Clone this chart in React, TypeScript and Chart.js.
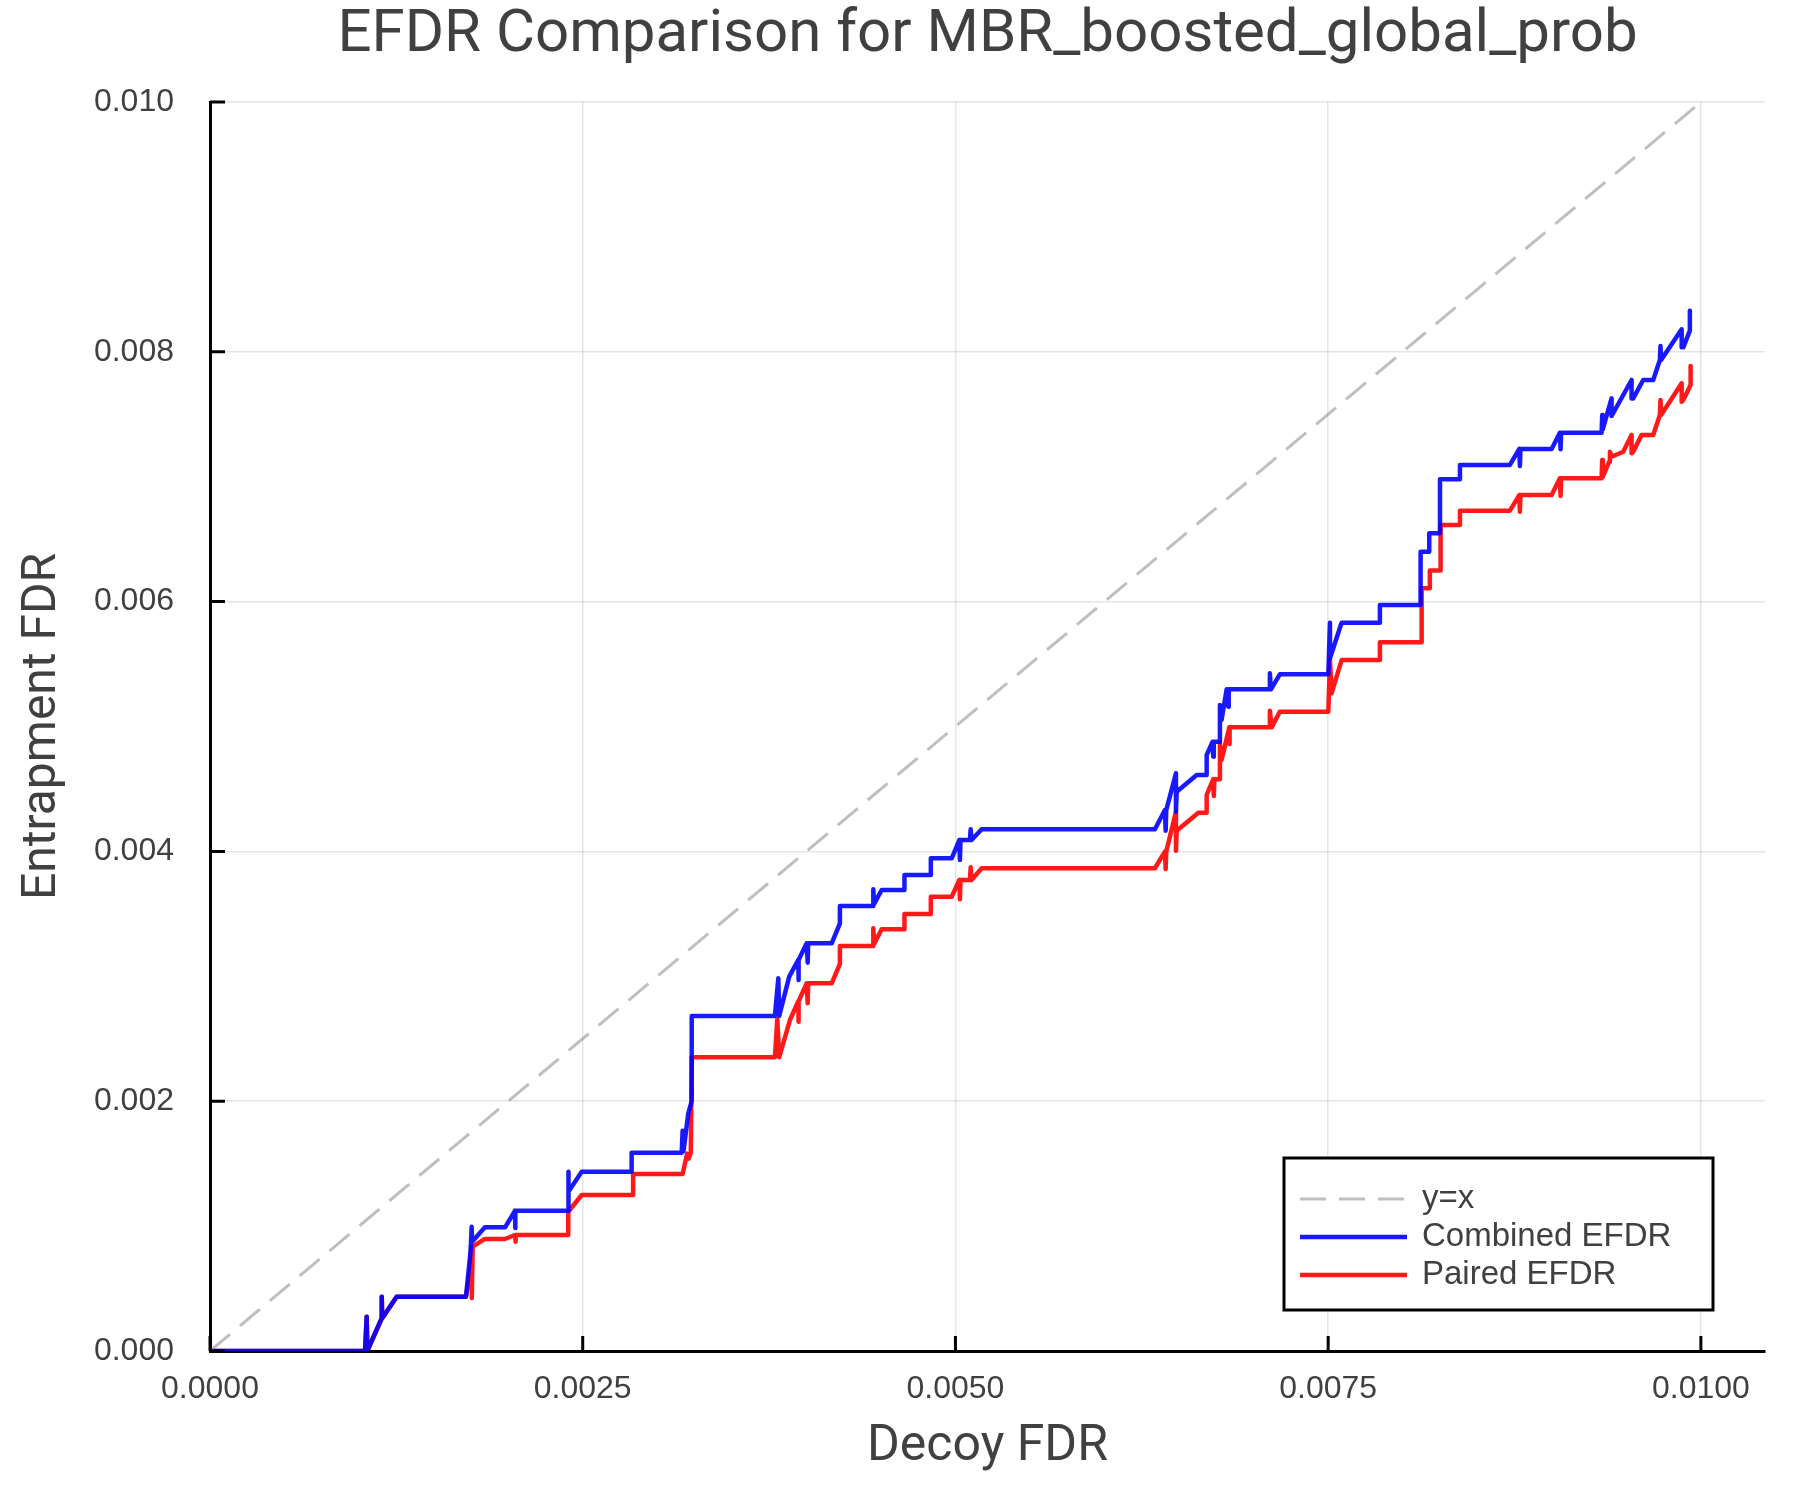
import { useEffect, useRef } from 'react';
import { Chart, ChartConfiguration, registerables } from 'chart.js';

Chart.register(...registerables);

const FONT = '"Liberation Sans", Arial, Helvetica, sans-serif';
const TITLE_FONT = 'Roboto, "Liberation Sans", Arial, sans-serif';
const TEXT_COLOR = '#404040';

const chartTitle = 'EFDR Comparison for MBR_boosted_global_prob';
const xTitle = 'Decoy FDR';
const yTitle = 'Entrapment FDR';
const seriesLabels = ['y=x', 'Combined EFDR', 'Paired EFDR'];

// axis ranges / ticks
const xMin = 0;
const xMax = 0.01043;
const xStep = 0.0025;
const yMin = 0;
const yMax = 0.01;
const yStep = 0.002;

// reference diagonal
const diagX = [0, 0.01];
const diagY = [0, 0.01];

// Combined EFDR
const combinedX = [
  0, 0.00104, 0.001051, 0.001055, 0.001152, 0.001152, 0.001155, 0.001252, 0.001717, 0.001748,
  0.001755, 0.001758, 0.001844, 0.001979, 0.002046, 0.002046, 0.00205, 0.002403, 0.002403, 0.002406,
  0.002493, 0.002828, 0.002828, 0.003164, 0.00317, 0.003176, 0.003208, 0.003231, 0.003231, 0.003789,
  0.003812, 0.003818, 0.003885, 0.003946, 0.003946, 0.00395, 0.004002, 0.004009, 0.004012, 0.00417,
  0.004225, 0.004225, 0.004449, 0.004449, 0.004455, 0.004505, 0.004658, 0.004658, 0.004835, 0.004835,
  0.004975, 0.005026, 0.00503, 0.005034, 0.005097, 0.005102, 0.005108, 0.005176, 0.006338, 0.006405,
  0.00641, 0.006414, 0.006479, 0.006479, 0.006484, 0.006618, 0.006685, 0.006685, 0.006725, 0.006729,
  0.006733, 0.006774, 0.006774, 0.006785, 0.006819, 0.00683, 0.006833, 0.007109, 0.007109, 0.007116,
  0.007176, 0.007501, 0.007512, 0.007512, 0.00759, 0.007847, 0.007847, 0.00812, 0.00812, 0.008178,
  0.008178, 0.00825, 0.00825, 0.008384, 0.008384, 0.008719, 0.008782, 0.008786, 0.00879, 0.008999,
  0.009054, 0.009059, 0.009062, 0.009334, 0.009338, 0.009342, 0.009401, 0.009401, 0.009535, 0.009535,
  0.009546, 0.009613, 0.00968, 0.009725, 0.009729, 0.009733, 0.009871, 0.009871, 0.009882, 0.009926,
  0.009926,
];
const combinedY = [
  0, 0, 0.000275, 0, 0.000262, 0.000435, 0.000262, 0.000435, 0.000435, 0.0008,
  0.000995, 0.000875, 0.00099, 0.00099, 0.001123, 0.000985, 0.001123, 0.001123, 0.001436, 0.001276,
  0.001436, 0.001436, 0.001588, 0.001588, 0.001764, 0.0016, 0.001903, 0.002, 0.002682, 0.002682,
  0.002984, 0.002682, 0.002997, 0.003131, 0.00297, 0.003131, 0.003264, 0.003109, 0.003264, 0.003264,
  0.003424, 0.003563, 0.003563, 0.003697, 0.00358, 0.003691, 0.003691, 0.003811, 0.003811, 0.003945,
  0.003945, 0.004091, 0.003931, 0.004091, 0.004091, 0.004177, 0.004091, 0.004177, 0.004177, 0.004331,
  0.004166, 0.004331, 0.004625, 0.004318, 0.004478, 0.004612, 0.004612, 0.004772, 0.004878, 0.004758,
  0.004878, 0.004878, 0.005172, 0.005052, 0.005298, 0.005159, 0.005298, 0.005298, 0.005426, 0.005298,
  0.005418, 0.005418, 0.005831, 0.005546, 0.005831, 0.005831, 0.005973, 0.005973, 0.0064, 0.0064,
  0.006547, 0.006547, 0.006979, 0.006979, 0.007094, 0.007094, 0.007222, 0.007086, 0.007222, 0.007222,
  0.007352, 0.007219, 0.007352, 0.007352, 0.007494, 0.00738, 0.007627, 0.007486, 0.007774, 0.007627,
  0.007627, 0.007774, 0.007774, 0.007934, 0.008046, 0.007934, 0.00818, 0.008036, 0.008036, 0.008169,
  0.008329,
];

// Paired EFDR
const pairedX = [
  0, 0.00104, 0.001051, 0.001055, 0.001152, 0.001152, 0.001155, 0.001252, 0.001717, 0.001745,
  0.001752, 0.001756, 0.001762, 0.001844, 0.001979, 0.002046, 0.002048, 0.002052, 0.002403, 0.002403,
  0.002493, 0.002838, 0.002838, 0.00317, 0.0032, 0.00321, 0.003225, 0.003231, 0.003789, 0.003805,
  0.003818, 0.00389, 0.003946, 0.003946, 0.00395, 0.004002, 0.004009, 0.004012, 0.00417, 0.004225,
  0.004225, 0.004449, 0.004449, 0.004455, 0.004505, 0.004658, 0.004658, 0.004835, 0.004835, 0.004975,
  0.005026, 0.00503, 0.005034, 0.005097, 0.005102, 0.005108, 0.005176, 0.006338, 0.006405, 0.00641,
  0.006414, 0.006479, 0.006479, 0.006484, 0.006629, 0.006685, 0.006685, 0.006729, 0.006733, 0.006737,
  0.006774, 0.006774, 0.006785, 0.006837, 0.006837, 0.006841, 0.007109, 0.007109, 0.007121, 0.007176,
  0.007501, 0.007512, 0.007523, 0.00759, 0.007847, 0.007847, 0.008127, 0.008127, 0.008182, 0.008182,
  0.008254, 0.008254, 0.008384, 0.008384, 0.008719, 0.008782, 0.008786, 0.00879, 0.008999, 0.009054,
  0.009059, 0.009062, 0.009334, 0.009338, 0.009342, 0.009385, 0.00939, 0.009401, 0.009479, 0.009535,
  0.009535, 0.009546, 0.009602, 0.00968, 0.009725, 0.009729, 0.009733, 0.009871, 0.009871, 0.009882,
  0.009931, 0.009931,
];
const pairedY = [
  0, 0, 0.000275, 0, 0.000262, 0.000435, 0.000262, 0.000435, 0.000435, 0.00065,
  0.000835, 0.000424, 0.000835, 0.000897, 0.000897, 0.000929, 0.000875, 0.000929, 0.000929, 0.001115,
  0.001249, 0.001249, 0.001417, 0.001417, 0.00158, 0.00154, 0.00159, 0.002352, 0.002352, 0.002656,
  0.002352, 0.00265, 0.0028, 0.002637, 0.0028, 0.002944, 0.002784, 0.002944, 0.002944, 0.003099,
  0.003243, 0.003243, 0.003384, 0.00326, 0.003376, 0.003376, 0.003499, 0.003499, 0.003637, 0.003637,
  0.003771, 0.003617, 0.003771, 0.003771, 0.003873, 0.003771, 0.003865, 0.003865, 0.003998, 0.003857,
  0.003998, 0.004318, 0.004006, 0.004166, 0.00431, 0.00431, 0.004452, 0.004577, 0.004444, 0.004577,
  0.004577, 0.00487, 0.004732, 0.004993, 0.00486, 0.004993, 0.004993, 0.005127, 0.004993, 0.005119,
  0.005119, 0.005538, 0.005266, 0.005532, 0.005532, 0.005674, 0.005674, 0.006106, 0.006106, 0.006248,
  0.006248, 0.006613, 0.006613, 0.006728, 0.006728, 0.006853, 0.00672, 0.006853, 0.006853, 0.006987,
  0.006845, 0.006987, 0.006987, 0.007134, 0.007, 0.00712, 0.0072, 0.00716, 0.0072, 0.007334,
  0.007187, 0.0072, 0.007334, 0.007334, 0.007494, 0.007614, 0.007494, 0.007748, 0.0076, 0.007614,
  0.007734, 0.007886,
];

const toPoints = (xs: number[], ys: number[]) => xs.map((x, i) => ({ x, y: ys[i] }));

// ticks drawn inward from the axis lines
const inwardTicks = {
  id: 'inwardTicks',
  afterDatasetsDraw(chart: Chart) {
    const { ctx, chartArea } = chart;
    const xs = chart.scales.x;
    const ys = chart.scales.y;
    ctx.save();
    ctx.strokeStyle = '#000';
    ctx.lineWidth = 3;
    ctx.beginPath();
    xs.ticks.forEach((t) => {
      const px = xs.getPixelForValue(t.value);
      ctx.moveTo(px, chartArea.bottom);
      ctx.lineTo(px, chartArea.bottom - 15);
    });
    ys.ticks.forEach((t) => {
      const py = ys.getPixelForValue(t.value);
      ctx.moveTo(chartArea.left, py);
      ctx.lineTo(chartArea.left + 15, py);
    });
    ctx.stroke();
    ctx.restore();
  },
};

// boxed legend in the lower right of the plot area
const boxLegend = {
  id: 'boxLegend',
  afterDatasetsDraw(chart: Chart) {
    const { ctx, chartArea } = chart;
    const w = 429;
    const h = 152;
    const right = chartArea.right - 52;
    const bottom = chartArea.bottom - 41;
    const left = right - w;
    const top = bottom - h;
    ctx.save();
    ctx.fillStyle = '#fff';
    ctx.fillRect(left, top, w, h);
    ctx.strokeStyle = '#000';
    ctx.lineWidth = 3;
    ctx.strokeRect(left, top, w, h);
    chart.data.datasets.forEach((ds: any, i: number) => {
      const y = top + 41 + i * 38;
      ctx.beginPath();
      ctx.setLineDash(ds.borderDash || []);
      ctx.strokeStyle = ds.borderColor;
      ctx.lineWidth = ds.borderWidth;
      ctx.lineCap = 'butt';
      ctx.moveTo(left + 16, y);
      ctx.lineTo(left + 123, y);
      ctx.stroke();
      ctx.setLineDash([]);
      ctx.fillStyle = TEXT_COLOR;
      ctx.font = `33px ${FONT}`;
      ctx.textBaseline = 'middle';
      ctx.textAlign = 'left';
      ctx.fillText(ds.label, left + 138, y);
    });
    ctx.restore();
  },
};

export default function App() {
  const canvasRef = useRef<HTMLCanvasElement>(null);
  const chartRef = useRef<Chart | null>(null);

  useEffect(() => {
    if (!canvasRef.current) return;
    const ctx = canvasRef.current.getContext('2d');
    if (!ctx) return;

    if (chartRef.current) {
      chartRef.current.destroy();
    }

    const config: ChartConfiguration = {
      type: 'line',
      data: {
        datasets: [
          {
            label: seriesLabels[0],
            data: toPoints(diagX, diagY),
            borderColor: 'rgba(128,128,128,0.5)',
            borderWidth: 3,
            borderDash: [26, 13],
            pointRadius: 0,
            fill: false,
          },
          {
            label: seriesLabels[1],
            data: toPoints(combinedX, combinedY),
            borderColor: 'rgba(0,0,255,0.9)',
            borderWidth: 4.5,
            borderJoinStyle: 'round',
            borderCapStyle: 'round',
            pointRadius: 0,
            fill: false,
          },
          {
            label: seriesLabels[2],
            data: toPoints(pairedX, pairedY),
            borderColor: 'rgba(255,0,0,0.9)',
            borderWidth: 4.5,
            borderJoinStyle: 'round',
            borderCapStyle: 'round',
            pointRadius: 0,
            fill: false,
          },
        ],
      },
      options: {
        responsive: false,
        animation: false,
        devicePixelRatio: 1,
        layout: { padding: { top: 0, left: 0, right: 35, bottom: 0 } },
        elements: { line: { tension: 0 } },
        plugins: {
          legend: { display: false },
          tooltip: { enabled: false },
          title: {
            display: true,
            text: chartTitle,
            color: TEXT_COLOR,
            fullSize: false,
            font: { family: TITLE_FONT, size: 60, weight: 'normal' },
            padding: { top: 0, bottom: 30 },
          },
        },
        scales: {
          x: {
            type: 'linear',
            min: xMin,
            max: xMax,
            afterFit: (s: any) => {
              s.height = 149;
            },
            ticks: {
              stepSize: xStep,
              includeBounds: false,
              autoSkip: false,
              maxRotation: 0,
              padding: 19,
              color: TEXT_COLOR,
              font: { family: FONT, size: 32 },
              callback: (v: any) => Number(v).toFixed(4),
            },
            grid: { color: 'rgba(0,0,0,0.1)', lineWidth: 1.5, drawTicks: false },
            border: { color: '#000', width: 3 },
            title: {
              display: true,
              text: xTitle,
              color: TEXT_COLOR,
              font: { family: TITLE_FONT, size: 50 },
              padding: { top: 0, bottom: 23 },
            },
          },
          y: {
            type: 'linear',
            min: yMin,
            max: yMax,
            afterFit: (s: any) => {
              s.width = 210;
            },
            ticks: {
              stepSize: yStep,
              includeBounds: false,
              autoSkip: false,
              padding: 36,
              color: TEXT_COLOR,
              font: { family: FONT, size: 32 },
              callback: (v: any) => Number(v).toFixed(3),
            },
            grid: { color: 'rgba(0,0,0,0.1)', lineWidth: 1.5, drawTicks: false },
            border: { color: '#000', width: 3 },
            title: {
              display: true,
              text: yTitle,
              color: TEXT_COLOR,
              font: { family: TITLE_FONT, size: 48 },
              padding: { top: 14, bottom: 0 },
            },
          },
        },
      },
      plugins: [inwardTicks, boxLegend],
    };

    chartRef.current = new Chart(ctx, config);

    return () => {
      if (chartRef.current) {
        chartRef.current.destroy();
        chartRef.current = null;
      }
    };
  }, []);

  return (
    <div style={{ position: 'absolute', left: 0, top: 0, width: 1800, height: 1500, background: '#fff' }}>
      <canvas ref={canvasRef} width={1800} height={1500} style={{ width: 1800, height: 1500 }} />
    </div>
  );
}
